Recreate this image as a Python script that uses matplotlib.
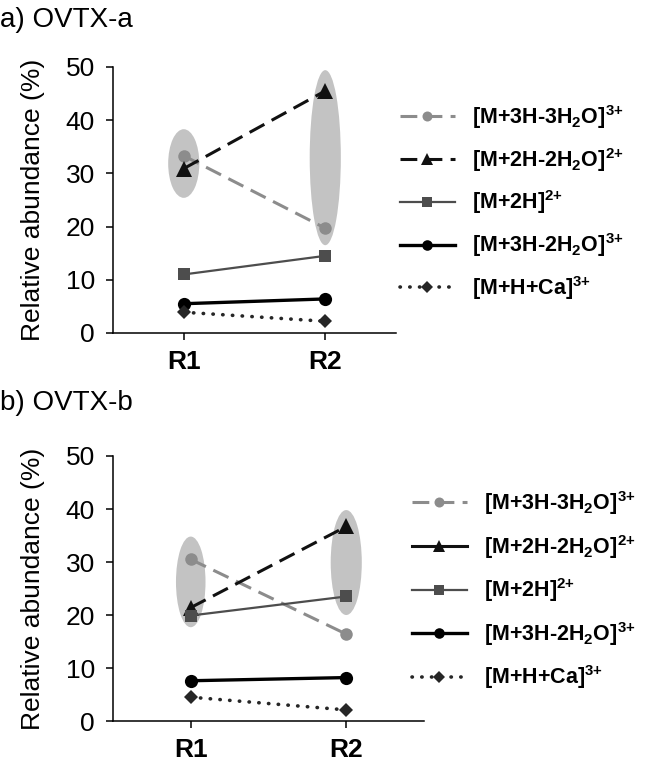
import matplotlib
matplotlib.use('Agg')
import matplotlib.pyplot as plt
from matplotlib.patches import Ellipse
from matplotlib.lines import Line2D

FONT = ['Liberation Sans', 'DejaVu Sans']
plt.rcParams['font.family'] = FONT
plt.rcParams['mathtext.fontset'] = 'custom'
plt.rcParams['mathtext.rm'] = 'Liberation Sans:bold'
plt.rcParams['mathtext.it'] = 'Liberation Sans:bold'
plt.rcParams['mathtext.bf'] = 'Liberation Sans:bold'

categories = ['R1', 'R2']
series_labels = [r'$\text{[M+3H-3H}_\text{2}\text{O]}^\text{3+}$',
                 r'$\text{[M+2H-2H}_\text{2}\text{O]}^\text{2+}$',
                 r'$\text{[M+2H]}^\text{2+}$',
                 r'$\text{[M+3H-2H}_\text{2}\text{O]}^\text{3+}$',
                 r'$\text{[M+H+Ca]}^\text{3+}$']

# Panel a) OVTX-a
a_3h_3w = [33.3, 19.7]
a_2h_2w = [30.9, 45.5]
a_2h = [11.0, 14.5]
a_3h_2w = [5.5, 6.4]
a_h_ca = [3.9, 2.2]
a_highlight_low = [25.4, 16.5]
a_highlight_high = [38.3, 49.4]

# Panel b) OVTX-b
b_3h_3w = [30.5, 16.4]
b_2h_2w = [21.4, 36.7]
b_2h = [19.9, 23.5]
b_3h_2w = [7.6, 8.2]
b_h_ca = [4.5, 2.1]
b_highlight_low = [17.7, 20.0]
b_highlight_high = [34.8, 39.8]

styles = [
    dict(color='#8c8c8c', ls=(0, (5.5, 2.7)), lw=2.2, marker='o', ms=9),
    dict(color='#111111', ls=(0, (5.5, 2.7)), lw=2.2, marker='^', ms=11),
    dict(color='#4d4d4d', ls='-', lw=1.6, marker='s', ms=8.5),
    dict(color='#000000', ls='-', lw=2.4, marker='o', ms=9.5),
    dict(color='#262626', ls=(0, (0.1, 2.6)), lw=2.6, marker='D', ms=7.5),
]

fig = plt.figure(figsize=(6.52, 7.66), dpi=100)


def panel(rect, title, title_y, series, low, high, ell_w, label_x,
          legend_anchor, legend_spacing, legend_solid_triangle):
    ax = fig.add_axes(rect)
    x = list(range(1, len(categories) + 1))
    for xi, lo, hi, w in zip(x, low, high, ell_w):
        ax.add_patch(Ellipse((xi, (lo + hi) / 2), w, hi - lo, facecolor='#c3c3c3',
                             edgecolor='none', zorder=1))
    for i, (vals, st) in enumerate(zip(series, styles)):
        ax.plot(x, vals, color=st['color'], linestyle=st['ls'], lw=st['lw'],
                marker=st['marker'], ms=st['ms'], markeredgewidth=0,
                dash_capstyle='round' if i == 4 else 'butt', zorder=3)
    ax.set_xlim(0.5, len(categories) + 0.5)
    ax.set_ylim(0, 50)
    ax.set_yticks([0, 10, 20, 30, 40, 50])
    ax.set_xticks(x)
    ax.set_xticklabels(categories, fontsize=19, fontweight='bold')
    ax.tick_params(axis='y', labelsize=19, length=5, width=1.1, pad=8)
    ax.tick_params(axis='x', length=5, width=1.1, pad=7)
    for s in ['top', 'right']:
        ax.spines[s].set_visible(False)
    for s in ['left', 'bottom']:
        ax.spines[s].set_linewidth(1.1)
    ax.set_ylabel('Relative abundance (%)', fontsize=19)
    ax.yaxis.set_label_coords(label_x, 0.5)
    fig.text(0.0, title_y, title, fontsize=20, ha='left', va='center')

    handles = []
    for i, st in enumerate(styles):
        ls = st['ls']
        if legend_solid_triangle and i == 1:
            ls = '-'
        handles.append(Line2D([], [], color=st['color'], linestyle=ls, lw=st['lw'],
                              marker=st['marker'], ms=st['ms'] * 0.8, markeredgewidth=0,
                              dash_capstyle='round' if i == 4 else 'butt'))
    fig.legend(handles, series_labels, loc='upper left', bbox_to_anchor=legend_anchor,
               frameon=False, fontsize=15.5, handlelength=2.55, handletextpad=0.8,
               labelspacing=legend_spacing, borderpad=0, borderaxespad=0)
    return ax


panel([0.1733, 0.5653, 0.4341, 0.3473], 'a) OVTX-a', 1 - 20 / 766,
      [a_3h_3w, a_2h_2w, a_2h, a_3h_2w, a_h_ca], a_highlight_low, a_highlight_high,
      [0.22, 0.22], -0.24, (400 / 652, 1 - 103 / 766), 0.69, False)
panel([0.1733, 0.0587, 0.4770, 0.3460], 'b) OVTX-b', 1 - 403 / 766,
      [b_3h_3w, b_2h_2w, b_2h, b_3h_2w, b_h_ca], b_highlight_low, b_highlight_high,
      [0.19, 0.20], -0.219, (412 / 652, 1 - 489 / 766), 0.73, True)

fig.savefig('out.png', dpi=100)
